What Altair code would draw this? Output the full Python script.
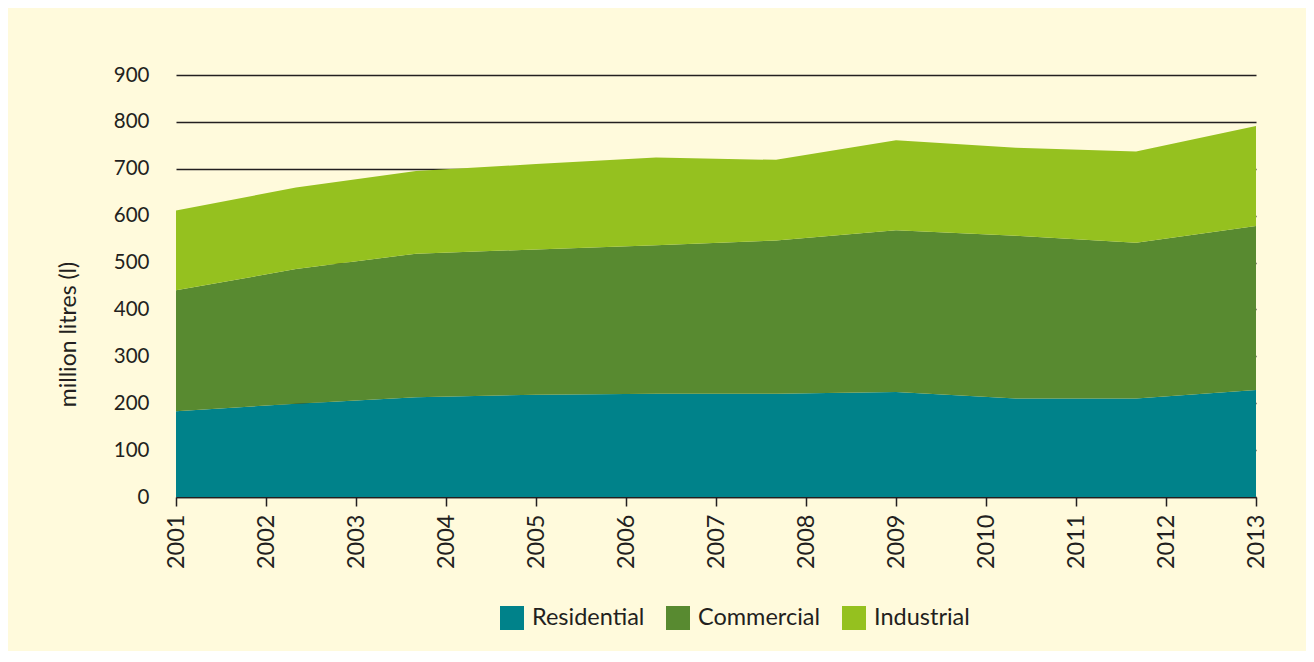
import altair as alt
import pandas as pd

# Data (10 evenly spaced samples between 2001 and 2013)
x_pos = [2001, 2002.333, 2003.667, 2005, 2006.333, 2007.667, 2009, 2010.333, 2011.667, 2013]
residential = [183, 199, 213, 218, 220, 220, 224, 210, 210, 228]
commercial = [258, 287, 306, 310, 317, 327, 345, 347, 332, 350]
industrial = [170, 174, 176, 182, 187, 172, 192, 188, 195, 213]

series = ["Residential", "Commercial", "Industrial"]
colors = ["#00828A", "#588A30", "#95C11F"]
year_ticks = list(range(2001, 2014))
y_ticks = list(range(0, 1000, 100))

rows = []
for name, vals, o in zip(series, [residential, commercial, industrial], [0, 1, 2]):
    for xv, v in zip(x_pos, vals):
        rows.append({"x": xv, "value": v, "sector": name, "ord": o})
df = pd.DataFrame(rows)

FONT = "Lato"
TXT = "#231F20"

chart = alt.Chart(df).mark_area(opacity=1, interpolate="linear").encode(
    x=alt.X("x:Q",
            scale=alt.Scale(domain=[2001, 2013], nice=False, zero=False),
            axis=alt.Axis(values=year_ticks, format="d", labelAngle=-90, labelAlign="right",
                          labelBaseline="middle", labelFontSize=23.5, labelPadding=8,
                          tickSize=9, tickColor=TXT, tickWidth=1.5, domainColor=TXT,
                          domainWidth=1.5, grid=False, title=None, labelColor=TXT,
                          labelFont=FONT)),
    y=alt.Y("value:Q", stack="zero",
            scale=alt.Scale(domain=[0, 900], nice=False),
            axis=alt.Axis(values=y_ticks, grid=True, gridColor=TXT, gridWidth=1.3,
                          domain=False, ticks=False, labelPadding=27, labelFontSize=20.5,
                          labelColor=TXT, labelFont=FONT,
                          title="million litres (l)", titleFont=FONT, titleFontSize=23,
                          titleFontWeight="normal", titleColor=TXT, titleAngle=-90,
                          titleX=-108, titleY=259, titleAlign="center",
                          titleBaseline="middle")),
    color=alt.Color("sector:N",
                    scale=alt.Scale(domain=series, range=colors),
                    legend=alt.Legend(title=None, orient="none", legendX=324, legendY=531,
                                      direction="horizontal", symbolType="square",
                                      symbolSize=576, symbolStrokeWidth=0,
                                      symbolOpacity=1,
                                      labelFontSize=23.5, labelFont=FONT, labelColor=TXT,
                                      labelOffset=8, columnPadding=21)),
    order=alt.Order("ord:Q"),
).properties(
    width=1080,
    height=422,
    padding={"left": 168, "top": 67, "right": 50, "bottom": 154},
    autosize=alt.AutoSizeParams(type="none"),
    background="#FFFADC",
).configure_view(stroke=None)

chart.save("out.html", embed_options={"renderer": "svg", "actions": False})
